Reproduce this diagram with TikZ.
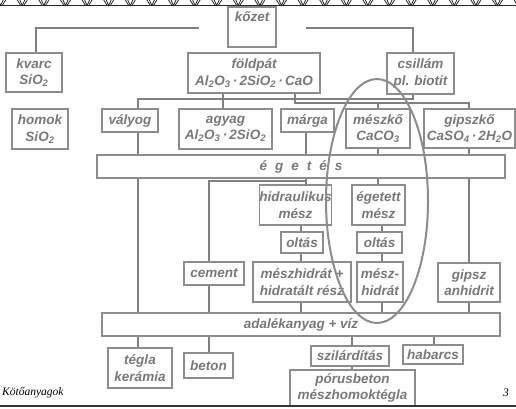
\documentclass[tikz,border=0pt]{standalone}
\usepackage{fontspec}
\setmainfont{Liberation Sans}
\newfontfamily\footfont{Liberation Serif}
\usetikzlibrary{positioning}
\definecolor{boxgray}{RGB}{140,140,140}
\definecolor{txtgray}{RGB}{120,120,120}
\definecolor{linegray}{RGB}{128,128,128}

\begin{document}
\begin{tikzpicture}[
        x=1pt, y=-1pt,
        box/.style={rectangle, draw=boxgray, line width=1.2pt, fill=white, inner sep=0pt, align=center, text=txtgray, font=\fontsize{13.5}{16.5}\selectfont\bfseries\itshape},
        bar/.style={box, minimum height=23},
        conn/.style={draw=linegray, line width=2.6pt},
        ring/.style={draw=boxgray, line width=2pt},
        deco/.style={draw=black!85, line width=0.8pt},
    ]
        \useasboundingbox (0,0) rectangle (516,408);

        % Top border
        \draw[deco] (0,5.5) -- (516,5.5);
        \foreach \cx in {0.7,22.3,...,520} {
            \draw[deco] (\cx-5,0) -- (\cx-1.5,5.5);
            \draw[deco] (\cx+5,0) -- (\cx+1.5,5.5);
            \draw[deco] (\cx-2.5,0) -- (\cx,5.5) -- (\cx+2.5,0);
        }

        % Raw materials
        \node[box, minimum width=48, minimum height=40] (kozet) at (252,27) {};
        \node[box, draw=none, fill=none, below=5pt of kozet.north] (kozettxt) {kőzet};
        \node[box, minimum width=56, minimum height=39] (kvarc) at (34,72.5) {kvarc\\SiO\textsubscript{2}};
        \node[box, minimum width=132, minimum height=40] (foldpat) at (254,73) {földpát\\Al\textsubscript{2}O\textsubscript{3}\,·\,2SiO\textsubscript{2}\,·\,CaO};
        \node[box, minimum width=67, minimum height=41] (csillam) at (420.5,73.5) {csillám\\pl. biotit};
        \node[box, minimum width=56, minimum height=40] (homok) at (40,129) {homok\\SiO\textsubscript{2}};
        \node[box, minimum width=56, minimum height=23] (valyog) at (130,120.5) {vályog};
        \node[box, minimum width=93, minimum height=40] (agyag) at (225.5,129) {agyag\\Al\textsubscript{2}O\textsubscript{3}\,·\,2SiO\textsubscript{2}};
        \node[box, minimum width=53, minimum height=23] (marga) at (307.5,120.5) {márga};
        \node[box, minimum width=64, minimum height=39] (meszko) at (378,128.5) {mészkő\\CaCO\textsubscript{3}};
        \node[box, minimum width=91, minimum height=39] (gipszko) at (469.5,128.5) {gipszkő\\CaSO\textsubscript{4}\,·\,2H\textsubscript{2}O};

        % Burning
        \node[bar, minimum width=408] (egetes) at (301,166.5) {é\hspace{8pt}g\hspace{8pt}e\hspace{8pt}t\hspace{8pt}é\hspace{8pt}s};
        \node[box, minimum width=69, minimum height=40] (hidr) at (295.5,205) {hidraulikus\\mész};
        \node[box, minimum width=53, minimum height=40] (egetett) at (378.5,205) {égetett\\mész};
        \node[box, minimum width=42, minimum height=21] (oltasA) at (302,242.5) {oltás};
        \node[box, minimum width=45, minimum height=21] (oltasB) at (379.5,242.5) {oltás};
        \node[box, minimum width=98, minimum height=40] (meszhidr) at (302,282) {mészhidrát +\\hidratált rész};
        \node[box, minimum width=46, minimum height=40] (meszhidrB) at (380,282) {mész-\\hidrát};
        \node[box, minimum width=62, minimum height=39] (gipsz) at (469,282.5) {gipsz\\anhidrit};
        \node[box, minimum width=60, minimum height=23] (cement) at (214,273.5) {cement};

        % Products
        \node[bar, minimum width=398] (adalek) at (301,324.5) {adalékanyag + víz};
        \node[box, minimum width=64, minimum height=40] (tegla) at (140,368) {tégla\\kerámia};
        \node[box, minimum width=49, minimum height=25] (beton) at (208.5,365.5) {beton};
        \node[box, minimum width=78, minimum height=20] (szilard) at (350,356) {szilárdítás};
        \node[box, minimum width=60, minimum height=19] (habarcs) at (433,354.5) {habarcs};
        \node[box, minimum width=125, minimum height=36] (porus) at (352.5,388) {pórusbeton\\mészhomoktégla};

        % Columns and rows of the connectors
        \coordinate (xA) at (138,0);
        \coordinate (xB) at (209,0);
        \coordinate (xC) at (301,0);
        \coordinate (xD) at (306,0);
        \coordinate (xF) at (223,0);
        \coordinate (xP) at (295,0);
        \coordinate (xM) at (378,0);
        \coordinate (xN) at (382,0);
        \coordinate (xQ) at (413,0);
        \coordinate (xS) at (352,0);
        \coordinate (xH) at (434,0);
        \coordinate (xG) at (469,0);
        \coordinate (r99) at (0,99);
        \coordinate (r103) at (0,103);
        \coordinate (r181) at (0,181);
        \coordinate (kzL) at (199,28);
        \coordinate (kzR) at (306,28);

        % kőzet
        \draw[conn] (kzL) -| ([xshift=2pt]kvarc.north);
        \draw[conn] (kzR) -| (xQ |- csillam.north);

        % földpát, csillám
        \draw[conn] (xA |- valyog.north) |- (xQ |- r99) -- (xQ |- csillam.south);
        \draw[conn] (xF |- foldpat.south) -- (xF |- agyag.north);
        \draw[conn] (xP |- foldpat.south) |- (xG |- r103) -- (xG |- gipszko.north);
        \draw[conn] (xM |- r103) -- (xM |- meszko.north);

        % égetés
        \draw[conn] (xA |- valyog.south) -- (xA |- egetes.north);
        \draw[conn] (xD |- marga.south) -- (xD |- egetes.north);
        \draw[conn] (xM |- meszko.south) -- (xM |- egetes.north);
        \draw[conn] (xG |- gipszko.south) -- (xG |- egetes.north);
        \draw[conn] (xA |- egetes.south) -- (xA |- adalek.north);
        \draw[conn] (xD |- egetes.south) -- (xD |- hidr.north);
        \draw[conn] (xD |- r181) -| (xB |- cement.north);
        \draw[conn] (xM |- egetes.south) -- (xM |- egetett.north);
        \draw[conn] (xG |- egetes.south) -- (xG |- gipsz.north);

        % oltás
        \draw[conn] (xC |- hidr.south) -- (xC |- oltasA.north);
        \draw[conn] (xC |- oltasA.south) -- (xC |- meszhidr.north);
        \draw[conn] (xN |- egetett.south) -- (xN |- oltasB.north);
        \draw[conn] (xN |- oltasB.south) -- (xN |- meszhidrB.north);

        % adalékanyag + víz
        \draw[conn] (xB |- cement.south) -- (xB |- adalek.north);
        \draw[conn] (xC |- meszhidr.south) -- (xC |- adalek.north);
        \draw[conn] (xN |- meszhidrB.south) -- (xN |- adalek.north);
        \draw[conn] (xG |- gipsz.south) -- (xG |- adalek.north);
        \draw[conn] (xA |- adalek.south) -- (xA |- tegla.north);
        \draw[conn] (xB |- adalek.south) -- (xB |- beton.north);
        \draw[conn] (xS |- adalek.south) -- (xS |- szilard.north);
        \draw[conn] (xS |- szilard.south) -- (xS |- porus.north);
        \draw[conn] (xH |- adalek.south) -- (xH |- habarcs.north);

        % lime group
        \draw[ring] (377,201) ellipse [x radius=51, y radius=122];

        % Footer
        \draw[line width=2pt, black!80] (0,406) -- (516,406);
        \node[font=\footfont\itshape\fontsize{11.5}{13}\selectfont, anchor=west, inner sep=0pt] (foot) at (2,393) {Kötőanyagok};
        \node[font=\footfont\itshape\fontsize{11.5}{13}\selectfont, anchor=east, inner sep=0pt] (page) at (509,393) {3};
    \end{tikzpicture}
\end{document}
